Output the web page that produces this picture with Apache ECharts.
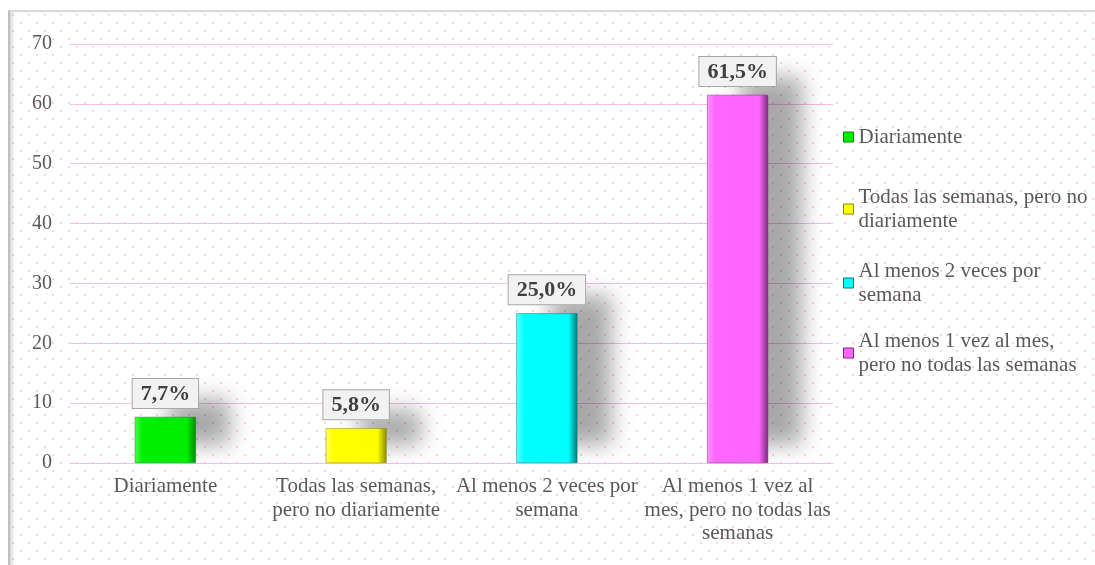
<!DOCTYPE html>
<html>
<head>
<meta charset="utf-8">
<title>Frecuencia</title>
<script src="https://cdn.jsdelivr.net/npm/echarts@6/dist/echarts.min.js"></script>
<style>
  html, body { margin: 0; padding: 0; background: #fff; }
  #frame {
    position: absolute; left: 8px; top: 10px; width: 1087px; height: 555px;
    border-top: 2px solid #d9d9d9; border-left: 2px solid #bfbfbf;
    box-shadow: inset 4px 0 4px -2px rgba(0,0,0,0.18);
    background-color: #fff;
    background-image: radial-gradient(circle, #f9d3f3 0.9px, transparent 1.3px),
                      radial-gradient(circle, #f9d3f3 0.9px, transparent 1.3px);
    background-size: 16px 16px, 16px 16px;
    background-position: 3px 3px, 11px 11px;
  }
  #main { position: absolute; left: 0; top: 0; width: 1095px; height: 565px; }
</style>
</head>
<body>
<div id="frame"></div>
<div id="main"></div>
<script type="text/javascript">
// datos
var categorias = ['Diariamente', 'Todas las semanas,\npero no diariamente', 'Al menos 2 veces por\nsemana', 'Al menos 1 vez al\nmes, pero no todas las\nsemanas'];
var nombres = ['Diariamente', 'Todas las semanas, pero no diariamente', 'Al menos 2 veces por semana', 'Al menos 1 vez al mes, pero no todas las semanas'];
var leyenda = ['Diariamente', 'Todas las semanas, pero no\ndiariamente', 'Al menos 2 veces por\nsemana', 'Al menos 1 vez al mes,\npero no todas las semanas'];
var valores = [7.7, 5.8, 25.0, 61.5];
var colores = [['#4dff4d', '#00ee00', '#008a00'], ['#ffff66', '#ffff00', '#8a8a00'], ['#66ffff', '#00ffff', '#007a7a'], ['#ff99ff', '#ff66ff', '#7a2a7a']];
var ejeY = [0, 10, 20, 30, 40, 50, 60, 70];

var fuente = '"Liberation Serif", "Times New Roman", serif';
var myChart = echarts.init(document.getElementById('main'));

var series = [];
for (var i = 0; i < valores.length; i++) {
    var d = [];
    for (var j = 0; j < valores.length; j++) d.push(j == i ? valores[i] : '-');
    series.push({
        name: nombres[i],
        type: 'bar',
        data: d,
        barWidth: 61,
        barGap: '-100%',
        itemStyle: {
            color: new echarts.graphic.LinearGradient(0, 0, 1, 0, [
                { offset: 0, color: colores[i][0] },
                { offset: 0.12, color: colores[i][1] },
                { offset: 0.85, color: colores[i][1] },
                { offset: 1, color: colores[i][2] }
            ]),
            borderColor: colores[i][2],
            borderWidth: 0.5,
            shadowColor: 'rgba(0,0,0,0.34)',
            shadowBlur: 22,
            shadowOffsetX: 34,
            shadowOffsetY: -18
        },
        label: {
            show: true,
            position: 'top',
            distance: 9,
            formatter: function (p) { return p.value.toFixed(1).replace('.', ',') + '%'; },
            fontFamily: fuente,
            fontSize: 22,
            fontWeight: 'bold',
            color: '#404040',
            backgroundColor: '#f2f2f2',
            borderColor: '#a6a6a6',
            borderWidth: 1,
            padding: [4, 8, 3, 8]
        }
    });
}

// una leyenda por serie para poner el icono en la primera linea
var topsLeyenda = [125, 173, 247, 317];
var legends = [];
for (var k = 0; k < nombres.length; k++) {
    var dos = leyenda[k].indexOf('\n') >= 0;
    legends.push({
        left: 843,
        top: topsLeyenda[k],
        padding: 0,
        itemWidth: 10,
        itemHeight: 10,
        itemGap: 0,
        icon: 'rect',
        data: [{ name: nombres[k], itemStyle: { color: colores[k][1], borderColor: colores[k][2], borderWidth: 1 } }],
        formatter: (function (t) { return function () { return t; }; })(leyenda[k]),
        textStyle: {
            fontFamily: fuente,
            fontSize: 21,
            color: '#595959',
            lineHeight: 24,
            padding: dos ? [24, 0, 0, 0] : 0
        }
    });
}

var option = {
    animation: false,
    grid: { left: 70, right: 262, top: 44, bottom: 102 },
    legend: legends,
    xAxis: {
        type: 'category',
        data: categorias,
        axisLine: { show: true, lineStyle: { color: '#f5bdee' } },
        axisTick: { show: false },
        axisLabel: {
            interval: 0,
            margin: 12,
            fontFamily: fuente,
            fontSize: 21,
            lineHeight: 23.5,
            color: '#595959'
        }
    },
    yAxis: {
        type: 'value',
        min: ejeY[0],
        max: ejeY[ejeY.length - 1],
        interval: 10,
        axisLine: { show: false },
        axisTick: { show: false },
        axisLabel: {
            margin: 18,
            fontFamily: fuente,
            fontSize: 20,
            color: '#595959'
        },
        splitLine: { lineStyle: { color: '#f5bdee', width: 1 } }
    },
    series: series
};

myChart.setOption(option);
</script>
</body>
</html>
